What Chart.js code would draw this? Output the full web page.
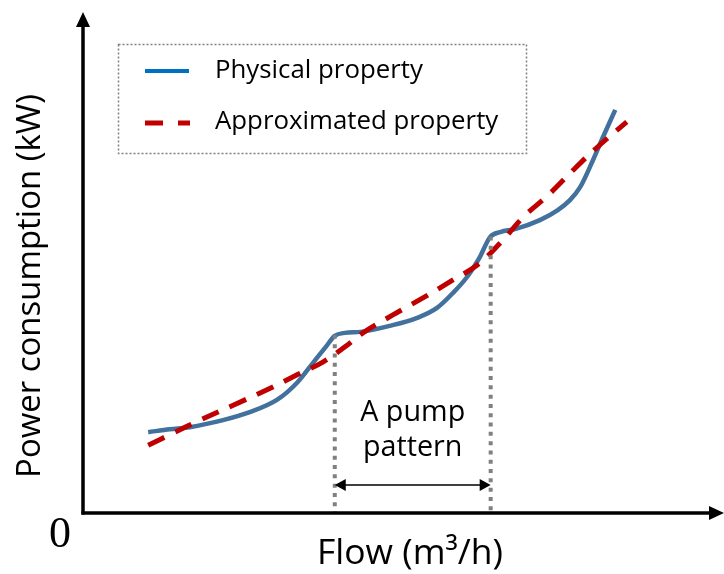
<!DOCTYPE html>
<html><head><meta charset="utf-8">
<script src="https://cdn.jsdelivr.net/npm/chart.js@4/dist/chart.umd.min.js"></script>
<style>html,body{margin:0;padding:0;background:#fff;}#wrap{width:724px;height:574px;position:relative;}</style>
</head><body><div id="wrap"><canvas id="c" width="724" height="574"></canvas></div>
<script>
// ---- data (relative units) ----
const physicalX = [10.2, 13.6, 16.7, 21.9, 26.1, 30.4, 33.5, 36.0, 38.0, 39.4, 41.0, 43.4, 48.0, 52.3, 55.4, 57.9, 60.1, 62.1, 63.7, 65.3, 67.6, 71.5, 74.3, 76.2, 77.8, 79.8, 81.4, 83.3];
const physicalY = [16.4, 17.0, 17.4, 18.8, 20.4, 22.9, 26.3, 30.3, 33.5, 35.7, 36.3, 36.5, 37.7, 39.3, 41.3, 44.3, 47.5, 51.5, 55.5, 56.5, 57.1, 58.9, 60.9, 62.9, 65.5, 70.9, 75.6, 81.0];
const approxX = [10.2, 14.1, 18.3, 23.5, 28.8, 33.5, 37.6, 41.0, 43.8, 48.5, 53.2, 57.9, 61.7, 65.3, 68.9, 72.8, 76.7, 80.4, 85.1];
const approxY = [13.8, 16.2, 18.8, 21.8, 24.9, 27.9, 30.5, 33.5, 36.3, 39.9, 43.3, 46.9, 49.9, 54.3, 59.5, 63.9, 68.9, 73.4, 78.6];
const seriesNames = ['Physical property', 'Approximated property'];
const xTitle = 'Flow (m³/h)';
const yTitle = 'Power consumption (kW)';
const originLabel = '0';
const patternLabel = ['A pump', 'pattern'];
const patternX = [39.4, 63.8];
const patternTopY = [35.9, 55.6];
const arrowY = 5.8;

const toPts = (xs, ys) => xs.map((x, i) => ({x, y: ys[i]}));
const BLUE = '#41719C', BLUE_LEG = '#0070C0', RED = '#C00000', GRAY = '#808080';
const FONT = '"Open Sans", "Noto Sans", sans-serif';

function fitFont(ctx, text, width) {
  ctx.font = '100px ' + FONT;
  const size = 100 * width / ctx.measureText(text).width;
  ctx.font = size + 'px ' + FONT;
  return size;
}

const deco = {
  id: 'deco',
  afterDatasetsDraw(chart) {
    const ctx = chart.ctx, ca = chart.chartArea;
    const xs = chart.scales.x, ys = chart.scales.y;
    ctx.save();
    // pattern verticals
    ctx.strokeStyle = GRAY; ctx.lineWidth = 4; ctx.setLineDash([4, 5.3]);
    patternX.forEach((px, i) => {
      const X = xs.getPixelForValue(px);
      ctx.beginPath(); ctx.moveTo(X, ys.getPixelForValue(patternTopY[i])); ctx.lineTo(X, ca.bottom); ctx.stroke();
    });
    ctx.setLineDash([]);
    // axes
    ctx.strokeStyle = '#000'; ctx.fillStyle = '#000'; ctx.lineWidth = 3.5;
    const ox = ca.left, oy = ca.bottom - 1;
    ctx.beginPath(); ctx.moveTo(ox, oy + 1.5); ctx.lineTo(ox, ca.top + 10); ctx.stroke();
    ctx.beginPath(); ctx.moveTo(ox - 1.5, oy); ctx.lineTo(ca.right - 10, oy); ctx.stroke();
    ctx.beginPath(); ctx.moveTo(ox, ca.top - 3); ctx.lineTo(ox - 7, ca.top + 12); ctx.lineTo(ox + 7, ca.top + 12); ctx.closePath(); ctx.fill();
    ctx.beginPath(); ctx.moveTo(ca.right + 2, oy); ctx.lineTo(ca.right - 13, oy - 7); ctx.lineTo(ca.right - 13, oy + 7); ctx.closePath(); ctx.fill();
    // double arrow
    const x1 = xs.getPixelForValue(patternX[0]), x2 = xs.getPixelForValue(patternX[1]);
    const ay = ys.getPixelForValue(arrowY);
    ctx.lineWidth = 1.5;
    ctx.beginPath(); ctx.moveTo(x1 + 6, ay); ctx.lineTo(x2 - 6, ay); ctx.stroke();
    ctx.beginPath(); ctx.moveTo(x1, ay); ctx.lineTo(x1 + 11, ay - 6); ctx.lineTo(x1 + 11, ay + 6); ctx.closePath(); ctx.fill();
    ctx.beginPath(); ctx.moveTo(x2, ay); ctx.lineTo(x2 - 11, ay - 6); ctx.lineTo(x2 - 11, ay + 6); ctx.closePath(); ctx.fill();
    // pattern text
    ctx.textAlign = 'center'; ctx.textBaseline = 'alphabetic';
    const cx = (x1 + x2) / 2;
    const s1 = fitFont(ctx, patternLabel[0], 105);
    ctx.fillText(patternLabel[0], cx, 421);
    ctx.font = s1 + 'px ' + FONT;
    ctx.fillText(patternLabel[1], cx, 456);
    // axis titles
    fitFont(ctx, xTitle, 186);
    ctx.fillText(xTitle, 410, 564);
    fitFont(ctx, yTitle, 384);
    ctx.save(); ctx.translate(40, 286); ctx.rotate(-Math.PI / 2); ctx.fillText(yTitle, 0, 0); ctx.restore();
    ctx.font = '44px "Liberation Serif", "Times New Roman", serif';
    ctx.fillText(originLabel, 60, 547);
    // legend
    ctx.strokeStyle = GRAY; ctx.lineWidth = 1.5; ctx.setLineDash([2, 2]);
    ctx.strokeRect(118.5, 44.5, 408, 109);
    ctx.setLineDash([]);
    ctx.lineWidth = 4; ctx.strokeStyle = BLUE_LEG;
    ctx.beginPath(); ctx.moveTo(145, 71); ctx.lineTo(189, 71); ctx.stroke();
    ctx.lineWidth = 5; ctx.strokeStyle = RED; ctx.setLineDash([18, 15]);
    ctx.beginPath(); ctx.moveTo(145, 123); ctx.lineTo(190, 123); ctx.stroke();
    ctx.setLineDash([]);
    ctx.textAlign = 'left';
    const ls = fitFont(ctx, seriesNames[0], 208);
    ctx.fillText(seriesNames[0], 215, 78);
    ctx.font = ls + 'px ' + FONT;
    ctx.fillText(seriesNames[1], 215, 129);
    ctx.restore();
  }
};

new Chart(document.getElementById('c'), {
  type: 'scatter',
  data: {
    datasets: [
      {label: seriesNames[1], data: toPts(approxX, approxY), showLine: true, borderColor: RED, borderWidth: 5,
       borderDash: [18, 12], pointRadius: 0, tension: 0.4, fill: false},
      {label: seriesNames[0], data: toPts(physicalX, physicalY), showLine: true, borderColor: BLUE, borderWidth: 4.5,
       pointRadius: 0, cubicInterpolationMode: 'monotone', fill: false}
    ]
  },
  options: {
    responsive: false, devicePixelRatio: 1, animation: false,
    layout: {padding: {left: 83, right: 2, top: 15, bottom: 60}},
    plugins: {legend: {display: false}, tooltip: {enabled: false}},
    scales: {
      x: {type: 'linear', min: 0, max: 100, display: false},
      y: {type: 'linear', min: 0, max: 100, display: false}
    }
  },
  plugins: [deco]
});
</script></body></html>
